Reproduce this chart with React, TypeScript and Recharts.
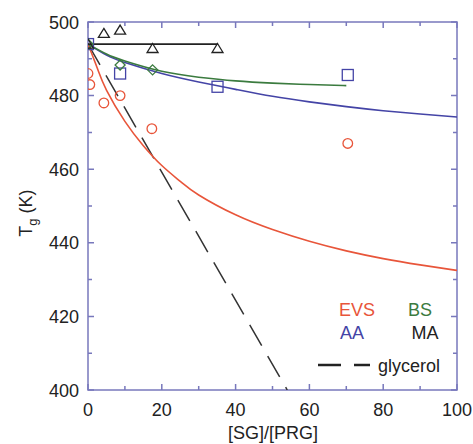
import {
  ComposedChart,
  Line,
  Scatter,
  XAxis,
  YAxis,
} from "recharts";

const xTicks = [0, 10, 20, 30, 40, 50, 60, 70, 80, 90, 100];
const yTicks = [400, 410, 420, 430, 440, 450, 460, 470, 480, 490, 500];

// measured points
const evsPoints = [
  { x: 0, y: 486 },
  { x: 0.5, y: 483 },
  { x: 4.3, y: 478 },
  { x: 8.7, y: 480 },
  { x: 17.3, y: 471 },
  { x: 70.4, y: 467 },
];
const aaPoints = [
  { x: 0, y: 494 },
  { x: 8.7, y: 486 },
  { x: 35.1, y: 482.4 },
  { x: 70.4, y: 485.6 },
];
const bsPoints = [
  { x: 0, y: 494 },
  { x: 8.7, y: 488.3 },
  { x: 17.5, y: 487 },
];
const maPoints = [
  { x: 0, y: 494 },
  { x: 4.3, y: 496.9 },
  { x: 8.7, y: 497.8 },
  { x: 17.5, y: 492.8 },
  { x: 35.1, y: 492.8 },
];

// fitted curves
const evsFit = [
  { x: 0, y: 494 },
  { x: 2.5, y: 487.5 },
  { x: 5, y: 481.5 },
  { x: 10, y: 473 },
  { x: 15, y: 466.4 },
  { x: 20, y: 461 },
  { x: 25, y: 456.7 },
  { x: 30, y: 453 },
  { x: 40, y: 447.6 },
  { x: 50, y: 443.6 },
  { x: 60, y: 440.4 },
  { x: 70, y: 437.8 },
  { x: 80, y: 435.7 },
  { x: 90, y: 434 },
  { x: 100, y: 432.5 },
];
const aaFit = [
  { x: 0, y: 494 },
  { x: 5, y: 491 },
  { x: 10, y: 489 },
  { x: 20, y: 486 },
  { x: 30, y: 483.7 },
  { x: 40, y: 481.7 },
  { x: 50, y: 479.8 },
  { x: 60, y: 478.3 },
  { x: 70, y: 477 },
  { x: 80, y: 475.9 },
  { x: 90, y: 475 },
  { x: 100, y: 474.2 },
];
const bsFit = [
  { x: 0, y: 494 },
  { x: 5, y: 491.3 },
  { x: 10, y: 489.4 },
  { x: 20, y: 486.6 },
  { x: 30, y: 485 },
  { x: 40, y: 484 },
  { x: 50, y: 483.4 },
  { x: 60, y: 483 },
  { x: 70, y: 482.7 },
];
const maFit = [
  { x: 0, y: 494 },
  { x: 35, y: 494 },
];
const glycerol = [
  { x: 0, y: 494 },
  { x: 54, y: 400 },
];

const RED = "#e8553a";
const BLUE = "#4444a6";
const GREEN = "#3b7b3f";
const BLACK = "#222";
const AXIS = "#7878bc";
const FONT = "'Liberation Sans', Arial, Helvetica, sans-serif";

// plot box (chart margins + axis sizes)
const PLOT_LEFT = 88;
const PLOT_TOP = 22;
const PLOT_RIGHT = 457;
const PLOT_BOTTOM = 390;

const Circle = (p: any) => (
  <circle cx={p.cx} cy={p.cy} r={4.8} fill="none" stroke={RED} strokeWidth={1.3} />
);
const Square = (p: any) => (
  <rect x={p.cx - 5.5} y={p.cy - 5.5} width={11} height={11} fill="none" stroke={BLUE} strokeWidth={1.3} />
);
const Diamond = (p: any) => (
  <polygon
    points={`${p.cx},${p.cy - 5} ${p.cx + 5},${p.cy} ${p.cx},${p.cy + 5} ${p.cx - 5},${p.cy}`}
    fill="none"
    stroke={GREEN}
    strokeWidth={1.3}
  />
);
const Triangle = (p: any) => (
  <polygon
    points={`${p.cx},${p.cy - 5} ${p.cx + 5.5},${p.cy + 4} ${p.cx - 5.5},${p.cy + 4}`}
    fill="none"
    stroke={BLACK}
    strokeWidth={1.3}
  />
);

// bottom ticks point inward and are mirrored onto the top edge
const BottomTick = (props: any) => {
  const x = Number(props.x);
  const v = props.payload.value;
  const major = v % 20 === 0;
  const len = major ? 6 : 4;
  return (
    <g>
      <path d={`M${x},${PLOT_BOTTOM}V${PLOT_BOTTOM - len}M${x},${PLOT_TOP}V${PLOT_TOP + len}`} stroke={AXIS} strokeWidth={1.5} fill="none" />
      {major && (
        <text x={x} y={PLOT_BOTTOM + 26} textAnchor="middle" fontSize={18} fill={BLACK} fontFamily={FONT}>
          {v}
        </text>
      )}
    </g>
  );
};
// left ticks point inward and are mirrored onto the right edge
const LeftTick = (props: any) => {
  const y = Number(props.y);
  const v = props.payload.value;
  const major = v % 20 === 0;
  const len = major ? 6 : 4;
  return (
    <g>
      <path d={`M${PLOT_LEFT},${y}H${PLOT_LEFT + len}M${PLOT_RIGHT},${y}H${PLOT_RIGHT - len}`} stroke={AXIS} strokeWidth={1.5} fill="none" />
      {major && (
        <text x={PLOT_LEFT - 9} y={y + 6.5} textAnchor="end" fontSize={18} fill={BLACK} fontFamily={FONT}>
          {v}
        </text>
      )}
    </g>
  );
};

export default function App() {
  return (
    <div style={{ position: "absolute", left: 0, top: 0, background: "#fff" }}>
      <ComposedChart
        width={473}
        height={444}
        margin={{ top: PLOT_TOP, right: 473 - PLOT_RIGHT, bottom: 0, left: 0 }}
        style={{ fontFamily: FONT }}
      >
        <XAxis
          type="number"
          dataKey="x"
          domain={[0, 100]}
          ticks={xTicks}
          height={444 - PLOT_BOTTOM}
          tickSize={0}
          tickMargin={0}
          tick={<BottomTick />}
          axisLine={false}
          tickLine={false}
          allowDataOverflow
        />
        <YAxis
          type="number"
          dataKey="y"
          domain={[400, 500]}
          ticks={yTicks}
          width={PLOT_LEFT}
          tickSize={0}
          tickMargin={0}
          tick={<LeftTick />}
          axisLine={false}
          tickLine={false}
          allowDataOverflow
        />

        <Line data={glycerol} dataKey="y" type="linear" stroke="#333" strokeWidth={1.5} strokeDasharray="24 12" dot={false} activeDot={false} isAnimationActive={false} />
        <Line data={evsFit} dataKey="y" type="natural" stroke={RED} strokeWidth={1.6} dot={false} activeDot={false} isAnimationActive={false} />
        <Line data={aaFit} dataKey="y" type="natural" stroke={BLUE} strokeWidth={1.6} dot={false} activeDot={false} isAnimationActive={false} />
        <Line data={bsFit} dataKey="y" type="natural" stroke={GREEN} strokeWidth={1.6} dot={false} activeDot={false} isAnimationActive={false} />
        <Line data={maFit} dataKey="y" type="linear" stroke={BLACK} strokeWidth={1.6} dot={false} activeDot={false} isAnimationActive={false} />

        <Scatter data={evsPoints} dataKey="y" shape={<Circle />} isAnimationActive={false} />
        <Scatter data={aaPoints} dataKey="y" shape={<Square />} isAnimationActive={false} />
        <Scatter data={bsPoints} dataKey="y" shape={<Diamond />} isAnimationActive={false} />
        <Scatter data={maPoints} dataKey="y" shape={<Triangle />} isAnimationActive={false} />

        {/* plot frame */}
        <rect
          x={PLOT_LEFT}
          y={PLOT_TOP}
          width={PLOT_RIGHT - PLOT_LEFT}
          height={PLOT_BOTTOM - PLOT_TOP}
          fill="none"
          stroke={AXIS}
          strokeWidth={1.5}
        />

        {/* axis titles */}
        <text x={273} y={439} textAnchor="middle" fontSize={18} fill={BLACK} fontFamily={FONT}>
          [SG]/[PRG]
        </text>
        <text transform="rotate(-90, 32, 213)" x={32} y={213} textAnchor="middle" fontSize={18} fill={BLACK} fontFamily={FONT}>
          T
          <tspan fontSize={13} dy={5}>g</tspan>
          <tspan dy={-5}> (K)</tspan>
        </text>

        {/* legend */}
        <g fontFamily={FONT} fontSize={18}>
          <text x={357} y={316} textAnchor="middle" fill={RED}>EVS</text>
          <text x={420} y={316} textAnchor="middle" fill={GREEN}>BS</text>
          <text x={352} y={338.5} textAnchor="middle" fill={BLUE}>AA</text>
          <text x={425} y={338.5} textAnchor="middle" fill={BLACK}>MA</text>
          <line x1={318} x2={341} y1={365} y2={365} stroke={BLACK} strokeWidth={2.5} />
          <line x1={354} x2={370} y1={365} y2={365} stroke={BLACK} strokeWidth={2.5} />
          <text x={378} y={371.5} fill={BLACK}>glycerol</text>
        </g>
      </ComposedChart>
    </div>
  );
}
